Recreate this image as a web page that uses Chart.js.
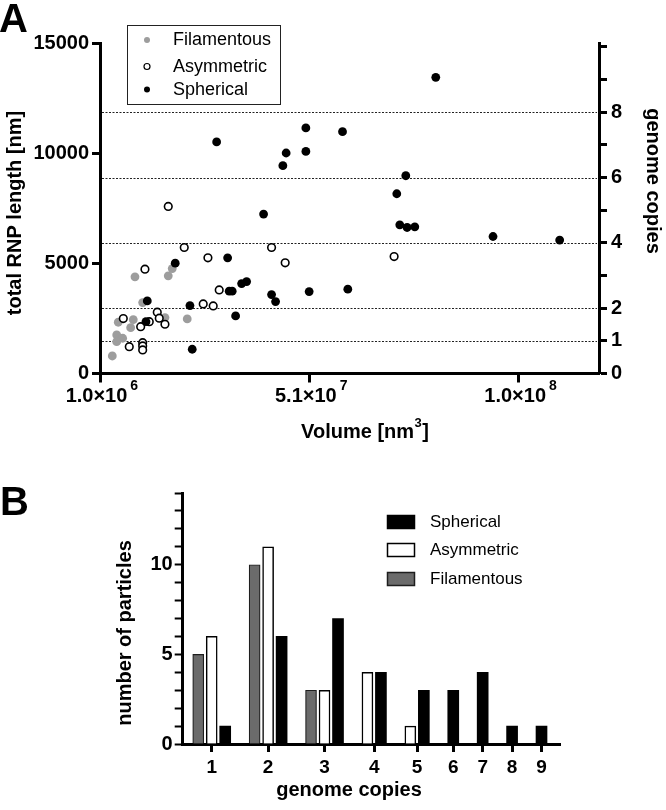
<!DOCTYPE html>
<html><head><meta charset="utf-8">
<script src="https://cdn.jsdelivr.net/npm/chart.js@4.4.1/dist/chart.umd.min.js"></script>
<style>
html,body{margin:0;padding:0;background:#fff;}
body{width:666px;height:810px;position:relative;overflow:hidden;}
#wa{position:absolute;left:0;top:0;width:666px;height:450px;}
#wb{position:absolute;left:0;top:450px;width:666px;height:360px;}
</style></head><body>
<div id="wa"><canvas id="ca"></canvas></div>
<div id="wb"><canvas id="cb"></canvas></div>
<script>
// ---------- Panel A data (volume in nm^3, total RNP length in nm) ----------
const filVolume  = [9.27e6,17.14e6,18.08e6,11.09e6,5.32e6,8.87e6,8.25e6,16.36e6,21.63e6,4.95e6,6.36e6,4.95e6,3.91e6];
const filLength  = [4386,4431,4763,3218,2327,2445,2082,2536,2477,1750,1600,1445,795];
const asymVolume = [26.52e6,41.57e6,44.79e6,70.55e6,29.19e6,25.41e6,27.77e6,17.14e6,20.92e6,11.63e6,6.51e6,10.62e6,12.65e6,14.54e6,15.01e6,16.36e6,7.92e6,11.09e6,11.09e6,11.09e6];
const asymLength = [5249,5718,5022,5309,3795,3159,3068,7581,5718,4736,2491,2127,2354,2782,2509,2236,1218,1400,1250,1068];
const sphVolume  = [80.40e6,28.58e6,49.68e6,58.35e6,45.02e6,49.68e6,44.24e6,73.31e6,71.18e6,39.68e6,71.89e6,73.62e6,75.44e6,93.94e6,109.70e6,31.18e6,34.49e6,35.67e6,31.55e6,32.26e6,41.57e6,42.52e6,50.46e6,59.60e6,33.07e6,18.79e6,12.18e6,22.27e6,11.87e6,22.81e6];
const sphLength  = [13444,10508,11144,10976,10008,10081,9431,8976,8158,7236,6749,6627,6658,6218,6054,5249,4081,4172,3736,3736,3581,3263,3718,3827,2613,5009,3295,3082,2354,1100];

const xMin = 1.0e6, xMax = 1.19e8;
const xTickValues = [1.0e6, 5.05e7, 1.0e8];
const xTickLabels = [['1.0','6'],['5.1','7'],['1.0','8']];
const yMax = 15000, yStep = 5000;
const rnpPerCopy = 1482;                 // nm of RNP per genome copy
const copyTicks  = [0,1,2,3,4,5,6,7,8,9,10];
const copyLabels = [0,1,2,4,6,8];
const copyGuides = [1,2,4,6,8];
const seriesNames = ['Filamentous','Asymmetric','Spherical'];

// ---------- Panel B data ----------
const genomeCopies = [1,2,3,4,5,6,7,8,9];
const filCounts  = [5,10,3,0,0,0,0,0,0];
const asymCounts = [6,11,3,4,1,0,0,0,0];
const sphCounts  = [1,6,7,4,3,3,4,1,1];
const countTicks = [0,1,2,3,4,5,6,7,8,9,10,11,12,13,14];

const FONT = '"Liberation Sans", Arial, Helvetica, sans-serif';
Chart.defaults.font.family = FONT;
Chart.defaults.color = '#000';

function pts(xs, ys){ return xs.map((x,i)=>({x:x, y:ys[i]})); }

// bar slot positions (GraphPad-style: empty bars take no room)
const GROUP_GAP = 1.18;
const seriesCounts = [filCounts, asymCounts, sphCounts];
const barPos = seriesCounts.map(()=>[]);
const groupCenters = [];
let slot = 0;
genomeCopies.forEach((c,i)=>{
  const present = [];
  seriesCounts.forEach((arr,s)=>{
    if (arr[i] > 0){ barPos[s][i] = slot; present.push(slot); slot += 1; }
    else barPos[s][i] = null;
  });
  groupCenters.push((present[0] + present[present.length-1]) / 2);
  slot += GROUP_GAP;
});
const lastSlot = slot - 1 - GROUP_GAP;
function barData(s){
  return genomeCopies.map((c,i)=> seriesCounts[s][i] > 0 ? {x: barPos[s][i], y: seriesCounts[s][i]} : null).filter(Boolean);
}

function rotText(ctx, text, x, y, ang, font){
  ctx.save(); ctx.translate(x,y); ctx.rotate(ang);
  ctx.font = font; ctx.textAlign='center'; ctx.textBaseline='middle';
  ctx.fillStyle='#000'; ctx.fillText(text,0,0); ctx.restore();
}

// ---------- Panel A plugin ----------
const plugA = {
  id:'plugA',
  beforeDatasetsDraw(chart){
    const {ctx, chartArea:a} = chart; const y2 = chart.scales.y2;
    ctx.save(); ctx.strokeStyle='#222'; ctx.lineWidth=1; ctx.setLineDash([2,1.5]);
    copyGuides.forEach(c=>{
      const y = Math.round(y2.getPixelForValue(c)) + 0.5;
      ctx.beginPath(); ctx.moveTo(a.left+2, y); ctx.lineTo(a.right-2, y); ctx.stroke();
    });
    ctx.restore();
  },
  afterDraw(chart){
    const {ctx} = chart; const xs = chart.scales.x;
    ctx.save();
    ctx.fillStyle='#000';
    // panel letter
    ctx.font = 'bold 40px '+FONT; ctx.textAlign='left'; ctx.textBaseline='alphabetic';
    ctx.fillText('A', -1, 32);
    // x tick labels with exponent
    xTickValues.forEach((v,i)=>{
      const px = xs.getPixelForValue(v);
      const base = xTickLabels[i][0] + '\u00d710';
      ctx.font = 'bold 20px '+FONT; const bw = ctx.measureText(base).width;
      const left = px - bw/2 - 3.5;
      ctx.textAlign='left'; ctx.textBaseline='middle';
      ctx.fillText(base, left, 396);
      ctx.font = 'bold 14px '+FONT;
      ctx.fillText(xTickLabels[i][1], left + bw + 3, 386);
    });
    // x title "Volume [nm3]"
    ctx.font = 'bold 20px '+FONT;
    const t1 = 'Volume [nm', t3 = ']';
    const w1 = ctx.measureText(t1).width, w3 = ctx.measureText(t3).width;
    ctx.font = 'bold 13px '+FONT; const w2 = ctx.measureText('3').width;
    const tot = w1 + w2 + 1 + w3; let tx = 365 - tot/2;
    ctx.textAlign='left'; ctx.textBaseline='middle';
    ctx.font = 'bold 20px '+FONT; ctx.fillText(t1, tx, 432);
    ctx.font = 'bold 13px '+FONT; ctx.fillText('3', tx + w1 + 0.5, 423);
    ctx.font = 'bold 20px '+FONT; ctx.fillText(t3, tx + w1 + w2 + 1, 432);
    ctx.restore();
    // y titles
    rotText(ctx, 'total RNP length [nm]', 15, 213, -Math.PI/2, 'bold 20px '+FONT);
    rotText(ctx, 'genome copies', 653, 181, Math.PI/2, 'bold 20px '+FONT);
    // legend
    ctx.save();
    ctx.strokeStyle='#222'; ctx.lineWidth=1;
    ctx.strokeRect(127.5, 25.5, 153, 79);
    const rows = [40, 66.5, 89.5];
    chart.data.datasets.forEach((ds,i)=>{
      const y = rows[i];
      ctx.beginPath(); ctx.arc(147, y, 3, 0, Math.PI*2);
      ctx.fillStyle = ds.backgroundColor; ctx.fill();
      if (ds.borderWidth > 0){ ctx.lineWidth = 1.2; ctx.strokeStyle = ds.borderColor; ctx.stroke(); }
      ctx.fillStyle='#000'; ctx.font = '18px '+FONT; ctx.textAlign='left'; ctx.textBaseline='middle';
      ctx.fillText(ds.label, 173, y + 0.5);
    });
    ctx.restore();
  }
};

const axisBorder = {width:3, color:'#000'};
new Chart(document.getElementById('ca'), {
  type:'scatter',
  data:{ datasets:[
    {label:seriesNames[0], data:pts(filVolume, filLength), backgroundColor:'#9d9d9d', borderColor:'#9d9d9d', borderWidth:0, pointRadius:4.4, order:2},
    {label:seriesNames[1], data:pts(asymVolume, asymLength), backgroundColor:'#ffffff', borderColor:'#000000', borderWidth:1.6, pointRadius:3.8, order:1},
    {label:seriesNames[2], data:pts(sphVolume, sphLength), backgroundColor:'#000000', borderColor:'#000000', borderWidth:0, pointRadius:4.4, order:0}
  ]},
  options:{
    responsive:true, maintainAspectRatio:false, animation:false, devicePixelRatio:1,
    layout:{padding:{top:43,left:0,right:0,bottom:0}},
    plugins:{legend:{display:false}, tooltip:{enabled:false}},
    scales:{
      x:{type:'linear', min:xMin, max:xMax,
         afterBuildTicks:s=>{ s.ticks = xTickValues.map(v=>({value:v})); },
         ticks:{display:false},
         grid:{drawOnChartArea:false, drawTicks:true, tickLength:9, tickWidth:3, tickColor:'#000'},
         border:axisBorder,
         afterFit:s=>{ s.height = 76.5; }},
      y:{type:'linear', position:'left', min:0, max:yMax,
         ticks:{stepSize:yStep, callback:v=>String(v), font:{size:20, weight:'bold'}, color:'#000', padding:3, autoSkip:false},
         grid:{drawOnChartArea:false, tickLength:8, tickWidth:3, tickColor:'#000'},
         border:axisBorder,
         afterFit:s=>{ s.width = 100; }},
      y2:{type:'linear', position:'right', min:0, max:yMax/rnpPerCopy,
         afterBuildTicks:s=>{ s.ticks = copyTicks.map(v=>({value:v})); },
         ticks:{callback:v=> copyLabels.includes(v) ? String(v) : '', font:{size:20, weight:'bold'}, color:'#000', padding:4, autoSkip:false},
         grid:{drawOnChartArea:false, tickLength:8, tickWidth:3, tickColor:'#000'},
         border:axisBorder,
         afterFit:s=>{ s.width = 67; }}
    }
  },
  plugins:[plugA]
});

// ---------- Panel B plugin ----------
const plugB = {
  id:'plugB',
  afterDraw(chart){
    const {ctx} = chart;
    ctx.save(); ctx.fillStyle='#000';
    ctx.font = 'bold 40px '+FONT; ctx.textAlign='left'; ctx.textBaseline='alphabetic';
    ctx.fillText('B', 0, 65);
    ctx.restore();
    rotText(ctx, 'number of particles', 125, 183, -Math.PI/2, 'bold 20px '+FONT);
    rotText(ctx, 'genome copies', 349, 340, 0, 'bold 20px '+FONT);
    // legend (reverse order)
    ctx.save();
    const rows = [72, 100, 129];
    const dss = chart.data.datasets.slice().reverse();
    dss.forEach((ds,i)=>{
      const y = rows[i];
      ctx.fillStyle = ds.backgroundColor; ctx.fillRect(387, y-7, 28, 14);
      ctx.strokeStyle = ds.borderColor; ctx.lineWidth = 1.5; ctx.strokeRect(387.5, y-6.5, 27, 13);
      ctx.fillStyle='#000'; ctx.font='17px '+FONT; ctx.textAlign='left'; ctx.textBaseline='middle';
      ctx.fillText(ds.label, 430, y+0.5);
    });
    ctx.restore();
  }
};

new Chart(document.getElementById('cb'), {
  type:'bar',
  data:{ datasets:[
    {label:seriesNames[0], data:barData(0), backgroundColor:'#6b6b6b', borderColor:'#1e1e1e', borderWidth:1.2, borderSkipped:'bottom'},
    {label:seriesNames[1], data:barData(1), backgroundColor:'#ffffff', borderColor:'#000000', borderWidth:1.5, borderSkipped:'bottom'},
    {label:seriesNames[2], data:barData(2), backgroundColor:'#000000', borderColor:'#000000', borderWidth:0, borderSkipped:'bottom'}
  ]},
  options:{
    responsive:true, maintainAspectRatio:false, animation:false, devicePixelRatio:1,
    layout:{padding:{top:43,left:0,right:106,bottom:0}},
    datasets:{bar:{grouped:false, barThickness:11}},
    plugins:{legend:{display:false}, tooltip:{enabled:false}},
    scales:{
      x:{type:'linear', min:-1.15, max:lastSlot+1.37, offset:false,
         afterBuildTicks:s=>{ s.ticks = groupCenters.map(v=>({value:v})); },
         ticks:{callback:(v,i)=>String(genomeCopies[i]), autoSkip:false, maxRotation:0, font:{size:19, weight:'bold'}, color:'#000', padding:4},
         grid:{drawOnChartArea:false, offset:false, tickLength:8, tickWidth:3, tickColor:'#000'},
         border:axisBorder,
         afterFit:s=>{ s.height = 66; }},
      y:{type:'linear', min:0, max:countTicks[countTicks.length-1],
         afterBuildTicks:s=>{ s.ticks = countTicks.map(v=>({value:v})); },
         ticks:{callback:v=> v%5===0 ? String(v) : '', autoSkip:false, font:{size:20, weight:'bold'}, color:'#000', padding:2},
         grid:{drawOnChartArea:false, tickLength:8, tickWidth:2, tickColor:'#000'},
         border:axisBorder,
         afterFit:s=>{ s.width = 182.7; }}
    }
  },
  plugins:[plugB]
});
</script>
</body></html>
